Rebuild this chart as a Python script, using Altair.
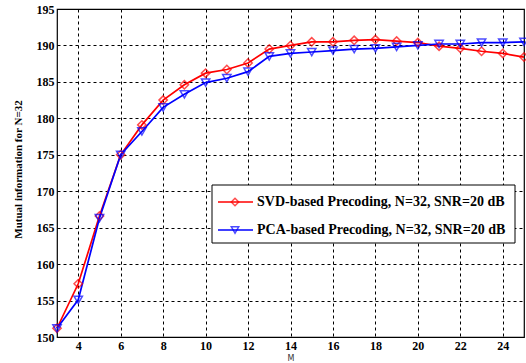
import altair as alt
import pandas as pd

M = list(range(3, 26))
svd = [151.2, 157.3, 166.6, 175.0, 179.1, 182.5, 184.6, 186.2, 186.7, 187.6, 189.5, 190.0,
       190.5, 190.5, 190.7, 190.8, 190.6, 190.4, 189.9, 189.6, 189.2, 188.9, 188.4]
pca = [151.2, 155.1, 166.3, 175.0, 178.2, 181.5, 183.3, 184.9, 185.5, 186.4, 188.5, 188.9,
       189.1, 189.3, 189.5, 189.6, 189.8, 190.0, 190.2, 190.2, 190.4, 190.4, 190.5]
series_names = ["SVD-based Precoding, N=32, SNR=20 dB", "PCA-based Precoding, N=32, SNR=20 dB"]
colors = ["#ff0000", "#0000ff"]
shapes = ["diamond", "triangle-down"]
x_ticks = [4, 6, 8, 10, 12, 14, 16, 18, 20, 22, 24]
y_ticks = [150, 155, 160, 165, 170, 175, 180, 185, 190, 195]

rows = []
for name, vals in zip(series_names, [svd, pca]):
    for m, v in zip(M, vals):
        rows.append({"M": m, "value": v, "series": name})
df = pd.DataFrame(rows)

FONT = "Liberation Serif"

xs = alt.X("M:Q", scale=alt.Scale(domain=[3, 25], nice=False),
           axis=alt.Axis(values=x_ticks, title="M", titleFontSize=8, titleFontWeight="normal",
                         titleFont="DejaVu Sans", titleColor="#333", titlePadding=3,
                         labelFont=FONT, labelFontSize=12, labelFontWeight="bold", labelColor="black",
                         labelPadding=3, tickSize=0, domain=False,
                         grid=True, gridColor="black", gridDash=[3, 3], gridOpacity=1, gridWidth=1))
ys = alt.Y("value:Q", scale=alt.Scale(domain=[150, 195], nice=False),
           axis=alt.Axis(values=y_ticks, title="Mutual information for N=32", titleFontSize=11,
                         titleFont=FONT, titleFontWeight="bold", titleColor="black",
                         titleX=-34, titleY=160, titleBaseline="bottom",
                         labelFont=FONT, labelFontSize=12, labelFontWeight="bold", labelColor="black",
                         labelPadding=3, tickSize=0, domain=False,
                         grid=True, gridColor="black", gridDash=[3, 3], gridOpacity=1, gridWidth=1))
color = alt.Color("series:N", scale=alt.Scale(domain=series_names, range=colors), legend=None)
shape = alt.Shape("series:N", scale=alt.Scale(domain=series_names, range=shapes), legend=None)

base = alt.Chart(df)
lines = base.mark_line(strokeWidth=1.7).encode(x=xs, y=ys, color=color)
pts = base.mark_point(filled=False, size=70, strokeWidth=1.5).encode(x=xs, y=ys, color=color, shape=shape)

# Legend (drawn manually, in pixel positions of the plot area)
one = pd.DataFrame({"a": [0]})
box = alt.Chart(one).mark_rect(fill="white", stroke="black", strokeWidth=1).encode(
    x=alt.value(155), x2=alt.value(458), y=alt.value(176), y2=alt.value(234))
leg_layers = [box]
for name, c, s, yy in zip(series_names, colors, shapes, [193, 221]):
    lc = alt.Chart(one)
    leg_layers.append(lc.mark_rule(strokeWidth=1.7, color=c).encode(
        x=alt.value(161), x2=alt.value(196), y=alt.value(yy)))
    leg_layers.append(lc.mark_point(filled=False, size=55, strokeWidth=1.5, color=c, shape=s).encode(
        x=alt.value(178), y=alt.value(yy)))
    leg_layers.append(lc.mark_text(align="left", baseline="middle", font=FONT, fontSize=14,
                                   fontWeight="bold", color="black", text=name).encode(
        x=alt.value(200), y=alt.value(yy)))

chart = alt.layer(lines, pts, *leg_layers).properties(
    width=467, height=328,
    padding={"left": 57, "top": 9, "right": 2, "bottom": 26},
    autosize="none",
    background="white",
).configure_view(stroke="black", strokeWidth=1.2)

chart.save("out.html", embed_options={"renderer": "svg", "actions": False})
